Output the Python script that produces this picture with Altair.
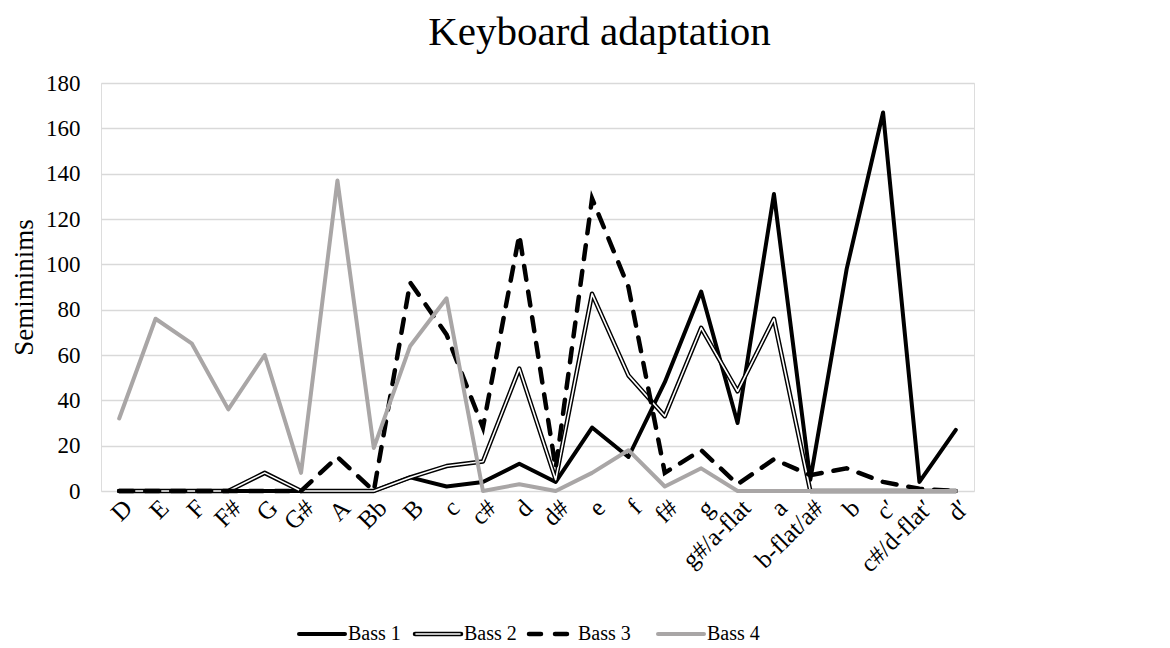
import altair as alt
import pandas as pd

notes = ["D", "E", "F", "F#", "G", "G#", "A", "Bb", "B", "c", "c#", "d", "d#",
         "e", "f", "f#", "g", "g#/a-flat", "a", "b-flat/a#", "b", "c′",
         "c#/d-flat′", "d′"]
bass1 = [0, 0, 0, 0, 0, 0, 0, 0, 6, 2, 4, 12, 4, 28, 15, 48, 88, 30, 131, 5, 98, 167, 4, 27]
bass2 = [0, 0, 0, 0, 8, 0, 0, 0, 6, 11, 13, 54, 5, 87, 51, 33, 72, 44, 76, 0, 0, 0, 0, 0]
bass3 = [0, 0, 0, 0, 0, 0, 15, 0, 92, 69, 28, 113, 10, 129, 90, 8, 18, 3, 14, 7, 10, 4, 1, 0]
bass4 = [32, 76, 65, 36, 60, 8, 137, 19, 64, 85, 0, 3, 0, 8, 18, 2, 10, 0, 0, 0, 0, 0, 0, 0]
series_names = ["Bass 1", "Bass 2", "Bass 3", "Bass 4"]

rows = []
for name, vals in zip(series_names, [bass1, bass2, bass3, bass4]):
    for n, v in zip(notes, vals):
        rows.append({"note": n, "value": v, "series": name})
df = pd.DataFrame(rows)
one = pd.DataFrame({"k": [0]})

FONT = "Liberation Serif"
W, H = 873, 408
GRAY = "#a9a6a6"

x = alt.X("note:N", sort=notes, scale=alt.Scale(domain=notes),
          axis=alt.Axis(title=None, labelAngle=-45, labelFontSize=25, labelFont=FONT,
                        labelColor="black", ticks=False, domain=False, grid=False,
                        labelPadding=4))
y = alt.Y("value:Q", scale=alt.Scale(domain=[0, 180]),
          axis=alt.Axis(title="Semiminims", values=list(range(0, 181, 20)), grid=True,
                        gridColor="#d9d9d9", gridWidth=1.5, ticks=False, domain=False,
                        labelFontSize=23, labelFont=FONT, labelColor="black",
                        titleFontSize=27, titleFont=FONT, titleFontWeight="normal",
                        titleColor="black", labelPadding=21, titlePadding=7))

base = alt.Chart(df).encode(x=x, y=y)

def series(name):
    return base.transform_filter(alt.datum.series == name)

l1 = series("Bass 1").mark_line(color="black", strokeWidth=4, strokeJoin="round", strokeCap="round")
l2a = series("Bass 2").mark_line(color="black", strokeWidth=4.5, strokeJoin="round", strokeCap="round")
l2b = series("Bass 2").mark_line(color="white", strokeWidth=1.6, strokeJoin="round", strokeCap="round")
l3 = series("Bass 3").mark_line(color="black", strokeWidth=4.5, strokeDash=[14, 12], strokeCap="round")
l4 = series("Bass 4").mark_line(color=GRAY, strokeWidth=4, strokeJoin="round", strokeCap="round")

# custom legend below the axis labels
LY = 551
leg_x = [198, 314, 428, 557]
sym_w = 46
legend_layers = []
styles = [
    dict(color="black", strokeWidth=4, strokeCap="round"),
    dict(color="black", strokeWidth=4.5, strokeCap="round"),
    dict(color="black", strokeWidth=4.5, strokeCap="round", strokeDash=[12, 14]),
    dict(color=GRAY, strokeWidth=4, strokeCap="round"),
]
for i, name in enumerate(series_names):
    x0 = leg_x[i]
    legend_layers.append(
        alt.Chart(one).mark_rule(**styles[i]).encode(
            x=alt.value(x0), x2=alt.value(x0 + sym_w), y=alt.value(LY)))
    if i == 1:
        legend_layers.append(
            alt.Chart(one).mark_rule(color="white", strokeWidth=1.6, strokeCap="round").encode(
                x=alt.value(x0 + 1), x2=alt.value(x0 + sym_w - 1), y=alt.value(LY)))
    legend_layers.append(
        alt.Chart(one).mark_text(text=name, font=FONT, fontSize=20, align="left",
                                 baseline="middle", color="black").encode(
            x=alt.value(x0 + sym_w + 3), y=alt.value(LY)))

chart = alt.layer(l1, l2a, l2b, l3, l4, *legend_layers).properties(
    width=W, height=H,
    title=alt.TitleParams("Keyboard adaptation", font=FONT, fontSize=41, fontWeight="normal",
                          color="black", anchor="middle", offset=18, dx=62),
    padding={"left": 2, "top": 4, "right": 5, "bottom": 5},
).configure_view(stroke=None).configure(background="white")

chart.save("out.html", embed_options={"renderer": "svg", "actions": False})
